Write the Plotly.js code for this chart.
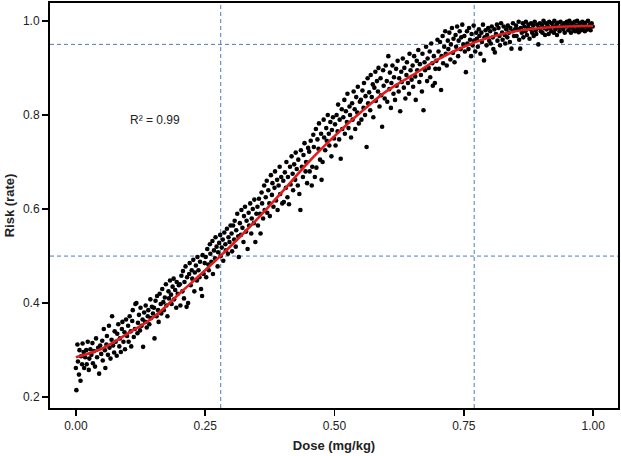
<!DOCTYPE html>
<html>
<head>
<meta charset="utf-8">
<script src="https://cdn.plot.ly/plotly-3.0.1.min.js"></script>
<style>
  html, body { margin: 0; padding: 0; background: #fff; }
  #chart { width: 621px; height: 456px; }
</style>
</head>
<body>
<div id="chart"></div>
<script>
const dose = [
  0.000,0.001,0.003,0.004,0.006,0.007,0.009,0.010,0.012,0.013,
  0.015,0.016,0.018,0.020,0.021,0.023,0.025,0.026,0.028,0.030,
  0.032,0.033,0.035,0.037,0.039,0.041,0.043,0.045,0.047,0.049,
  0.051,0.052,0.054,0.056,0.057,0.059,0.060,0.062,0.064,0.065,
  0.067,0.069,0.070,0.072,0.074,0.075,0.077,0.079,0.080,0.082,
  0.084,0.085,0.087,0.089,0.090,0.092,0.094,0.095,0.097,0.099,
  0.101,0.102,0.104,0.106,0.107,0.109,0.110,0.112,0.114,0.115,
  0.117,0.119,0.120,0.122,0.124,0.125,0.127,0.129,0.130,0.132,
  0.134,0.135,0.137,0.139,0.140,0.142,0.144,0.145,0.147,0.149,
  0.151,0.152,0.154,0.156,0.157,0.159,0.160,0.162,0.164,0.165,
  0.167,0.169,0.170,0.172,0.174,0.175,0.177,0.179,0.180,0.182,
  0.184,0.185,0.187,0.189,0.190,0.192,0.194,0.195,0.197,0.199,
  0.201,0.202,0.204,0.206,0.207,0.209,0.210,0.212,0.214,0.215,
  0.217,0.219,0.220,0.222,0.224,0.225,0.227,0.229,0.230,0.232,
  0.234,0.235,0.237,0.239,0.240,0.242,0.244,0.245,0.247,0.249,
  0.251,0.252,0.254,0.256,0.257,0.259,0.260,0.262,0.264,0.265,
  0.267,0.269,0.270,0.272,0.274,0.275,0.277,0.279,0.280,0.282,
  0.284,0.285,0.287,0.289,0.290,0.292,0.294,0.295,0.297,0.299,
  0.301,0.302,0.304,0.306,0.307,0.309,0.310,0.312,0.314,0.315,
  0.317,0.319,0.320,0.322,0.324,0.325,0.327,0.329,0.330,0.332,
  0.334,0.335,0.337,0.339,0.340,0.342,0.344,0.345,0.347,0.349,
  0.351,0.352,0.354,0.356,0.357,0.359,0.360,0.362,0.364,0.365,
  0.367,0.369,0.370,0.372,0.374,0.375,0.377,0.379,0.380,0.382,
  0.384,0.385,0.387,0.389,0.390,0.392,0.394,0.395,0.397,0.399,
  0.401,0.402,0.404,0.406,0.407,0.409,0.410,0.412,0.414,0.415,
  0.417,0.419,0.420,0.422,0.424,0.425,0.427,0.429,0.430,0.432,
  0.434,0.435,0.437,0.439,0.440,0.442,0.444,0.445,0.447,0.449,
  0.451,0.452,0.454,0.456,0.457,0.459,0.460,0.462,0.464,0.465,
  0.467,0.469,0.470,0.472,0.474,0.475,0.477,0.479,0.480,0.482,
  0.484,0.485,0.487,0.489,0.490,0.492,0.494,0.495,0.497,0.499,
  0.501,0.502,0.504,0.506,0.507,0.509,0.510,0.512,0.514,0.515,
  0.517,0.519,0.520,0.522,0.524,0.525,0.527,0.529,0.530,0.532,
  0.534,0.535,0.537,0.539,0.540,0.542,0.544,0.545,0.547,0.549,
  0.551,0.552,0.554,0.556,0.557,0.559,0.560,0.562,0.564,0.565,
  0.567,0.569,0.570,0.572,0.574,0.575,0.577,0.579,0.580,0.582,
  0.584,0.585,0.587,0.589,0.590,0.592,0.594,0.595,0.597,0.599,
  0.601,0.602,0.604,0.606,0.607,0.609,0.610,0.612,0.614,0.615,
  0.617,0.619,0.620,0.622,0.624,0.625,0.627,0.629,0.630,0.632,
  0.634,0.635,0.637,0.639,0.640,0.642,0.644,0.645,0.647,0.649,
  0.651,0.652,0.654,0.656,0.657,0.659,0.660,0.662,0.664,0.665,
  0.667,0.669,0.670,0.672,0.674,0.675,0.677,0.679,0.680,0.682,
  0.684,0.685,0.687,0.689,0.690,0.692,0.694,0.695,0.697,0.699,
  0.701,0.702,0.704,0.706,0.707,0.709,0.710,0.712,0.714,0.715,
  0.717,0.719,0.720,0.722,0.724,0.725,0.727,0.729,0.730,0.732,
  0.734,0.735,0.737,0.739,0.740,0.742,0.744,0.745,0.747,0.749,
  0.751,0.752,0.754,0.756,0.757,0.759,0.760,0.762,0.764,0.765,
  0.767,0.769,0.770,0.772,0.774,0.775,0.777,0.779,0.780,0.782,
  0.784,0.785,0.787,0.789,0.790,0.792,0.794,0.795,0.797,0.799,
  0.801,0.802,0.804,0.806,0.807,0.809,0.810,0.812,0.814,0.815,
  0.817,0.819,0.820,0.822,0.824,0.825,0.827,0.829,0.830,0.832,
  0.834,0.835,0.837,0.839,0.840,0.842,0.844,0.845,0.847,0.849,
  0.851,0.852,0.854,0.856,0.857,0.859,0.860,0.862,0.864,0.865,
  0.867,0.869,0.870,0.872,0.874,0.875,0.877,0.879,0.880,0.882,
  0.884,0.885,0.887,0.889,0.890,0.892,0.894,0.895,0.897,0.899,
  0.901,0.902,0.904,0.906,0.907,0.909,0.910,0.912,0.914,0.915,
  0.917,0.919,0.920,0.922,0.924,0.925,0.927,0.929,0.930,0.932,
  0.934,0.935,0.937,0.939,0.940,0.942,0.944,0.945,0.947,0.949,
  0.951,0.952,0.954,0.956,0.957,0.959,0.960,0.962,0.964,0.965,
  0.967,0.969,0.970,0.972,0.974,0.975,0.977,0.979,0.980,0.982,
  0.984,0.985,0.987,0.989,0.990,0.992,0.994,0.995,0.997,0.999
];
const risk = [
  0.262,0.215,0.312,0.276,0.248,0.300,0.235,0.287,0.270,0.314,
  0.296,0.262,0.285,0.300,0.270,0.318,0.258,0.282,0.302,0.290,
  0.315,0.272,0.298,0.265,0.325,0.285,0.305,0.250,0.310,0.292,
  0.320,0.278,0.345,0.300,0.262,0.312,0.330,0.290,0.352,0.305,
  0.282,0.322,0.372,0.310,0.295,0.340,0.318,0.288,0.335,0.355,
  0.308,0.325,0.296,0.345,0.360,0.318,0.338,0.302,0.365,0.330,
  0.352,0.318,0.372,0.340,0.308,0.362,0.385,0.328,0.345,0.398,
  0.400,0.336,0.358,0.375,0.342,0.390,0.352,0.365,0.307,0.380,
  0.360,0.395,0.348,0.372,0.385,0.355,0.408,0.368,0.392,0.378,
  0.390,0.325,0.405,0.372,0.415,0.385,0.360,0.420,0.398,0.378,
  0.430,0.402,0.385,0.412,0.440,0.395,0.372,0.425,0.410,0.448,
  0.418,0.398,0.435,0.452,0.408,0.428,0.390,0.445,0.420,0.438,
  0.440,0.395,0.458,0.425,0.468,0.410,0.445,0.478,0.392,0.455,
  0.400,0.462,0.485,0.438,0.470,0.452,0.492,0.425,0.465,0.480,
  0.448,0.498,0.470,0.455,0.488,0.430,0.415,0.502,0.462,0.485,
  0.498,0.455,0.515,0.482,0.470,0.525,0.505,0.488,0.532,0.462,
  0.512,0.495,0.540,0.520,0.478,0.508,0.528,0.545,0.500,0.518,
  0.535,0.490,0.550,0.525,0.512,0.558,0.505,0.540,0.530,0.565,
  0.548,0.510,0.565,0.535,0.575,0.520,0.555,0.590,0.542,0.498,
  0.570,0.545,0.598,0.560,0.530,0.585,0.605,0.552,0.575,0.515,
  0.592,0.565,0.612,0.548,0.580,0.600,0.570,0.620,0.530,0.590,
  0.605,0.565,0.622,0.590,0.548,0.635,0.612,0.580,0.650,0.598,
  0.625,0.660,0.592,0.640,0.612,0.585,0.672,0.630,0.655,0.605,
  0.645,0.680,0.618,0.662,0.598,0.650,0.690,0.632,0.668,0.612,
  0.660,0.615,0.678,0.645,0.700,0.625,0.668,0.610,0.690,0.652,
  0.712,0.675,0.640,0.695,0.662,0.720,0.685,0.650,0.705,0.632,
  0.598,0.725,0.690,0.668,0.715,0.740,0.680,0.700,0.655,0.730,
  0.722,0.680,0.745,0.650,0.690,0.758,0.732,0.668,0.770,0.688,
  0.748,0.728,0.782,0.705,0.760,0.662,0.700,0.790,0.752,0.725,
  0.772,0.745,0.800,0.760,0.735,0.785,0.712,0.768,0.795,0.750,
  0.780,0.735,0.800,0.765,0.822,0.748,0.790,0.707,0.812,0.770,
  0.795,0.832,0.760,0.808,0.785,0.845,0.772,0.818,0.800,0.752,
  0.825,0.790,0.850,0.812,0.770,0.838,0.805,0.860,0.782,0.828,
  0.832,0.790,0.852,0.815,0.868,0.800,0.840,0.732,0.878,0.825,
  0.848,0.810,0.885,0.838,0.865,0.795,0.858,0.892,0.830,0.872,
  0.850,0.900,0.818,0.878,0.842,0.775,0.895,0.862,0.835,0.905,
  0.872,0.828,0.925,0.855,0.890,0.815,0.868,0.905,0.845,0.880,
  0.832,0.898,0.862,0.915,0.850,0.878,0.808,0.892,0.870,0.920,
  0.858,0.900,0.835,0.885,0.912,0.868,0.845,0.930,0.895,0.875,
  0.905,0.860,0.925,0.882,0.832,0.915,0.895,0.938,0.870,0.908,
  0.885,0.850,0.930,0.810,0.912,0.895,0.945,0.872,0.920,0.900,
  0.935,0.880,0.952,0.910,0.862,0.925,0.868,0.898,0.915,0.960,
  0.935,0.898,0.955,0.853,0.925,0.968,0.910,0.945,0.978,0.930,
  0.905,0.958,0.940,0.975,0.918,0.950,0.985,0.932,0.962,0.912,
  0.970,0.945,0.988,0.925,0.958,0.978,0.940,0.965,0.992,0.950,
  0.968,0.935,0.891,0.978,0.952,0.940,0.985,0.960,0.925,0.972,
  0.948,0.990,0.958,0.935,0.975,0.962,0.945,0.982,0.968,0.930,
  0.975,0.955,0.992,0.916,0.965,0.980,0.948,0.970,0.985,0.958,
  0.978,0.952,0.988,0.965,0.940,0.982,0.933,0.972,0.992,0.958,
  0.985,0.968,0.948,0.995,0.975,0.960,0.988,0.970,0.952,0.982,
  0.965,0.990,0.975,0.955,0.985,0.941,0.978,0.995,0.968,0.982,
  0.990,0.968,0.982,0.998,0.960,0.941,0.985,0.975,0.995,0.965,
  0.988,0.978,0.998,0.970,0.985,0.992,0.962,0.982,0.995,0.975,
  0.990,0.968,0.998,0.980,0.972,0.992,0.950,0.985,0.995,0.978,
  0.992,0.975,1.000,0.985,0.970,0.995,0.982,0.990,0.972,0.998,
  0.985,0.978,0.995,0.988,0.975,1.000,0.982,0.992,0.970,0.996,
  0.986,0.978,0.998,0.957,0.990,0.982,0.995,0.975,0.988,0.998,
  0.992,0.980,1.000,0.986,0.975,0.995,0.988,0.982,0.998,0.978,
  0.990,1.000,0.984,0.976,0.995,0.988,0.980,0.998,0.985,0.992,
  0.978,0.996,0.988,0.982,1.000,0.985,0.992,0.980,0.995,0.988
];

// Fitted curve
const fitDose = [0.00,0.05,0.10,0.15,0.20,0.25,0.30,0.35,0.40,0.45,0.50,
                 0.55,0.60,0.65,0.70,0.75,0.80,0.85,0.90,0.95,1.00];
const fitRisk = [0.285,0.303,0.335,0.370,0.420,0.470,0.522,0.578,0.638,0.700,0.755,
                 0.805,0.850,0.884,0.918,0.945,0.965,0.978,0.985,0.988,0.989];

// Reference lines
const refDose = [0.28, 0.77];
const refRisk = [0.5, 0.95];

const xTickVals = [0, 0.25, 0.5, 0.75, 1];
const xTickText = ["0.00", "0.25", "0.50", "0.75", "1.00"];
const yTickVals = [0.2, 0.4, 0.6, 0.8, 1.0];
const yTickText = ["0.2", "0.4", "0.6", "0.8", "1.0"];

const rsqText = "R² = 0.99";

const n = Math.min(dose.length, risk.length);

const traces = [
  {
    x: dose.slice(0, n), y: risk.slice(0, n),
    type: "scatter", mode: "markers",
    marker: { color: "#000000", size: 4.6 },
    hoverinfo: "skip"
  },
  {
    x: fitDose, y: fitRisk,
    type: "scatter", mode: "lines",
    line: { color: "#e41a1c", width: 2.6, shape: "spline" },
    hoverinfo: "skip"
  }
];

const dashStyle = { color: "#4f7bbd", width: 1, dash: "4px,3px" };
const shapes = [];
refDose.forEach(v => shapes.push({ type: "line", xref: "x", yref: "paper", x0: v, x1: v, y0: 0, y1: 1, line: dashStyle, layer: "below" }));
refRisk.forEach(v => shapes.push({ type: "line", xref: "paper", yref: "y", x0: 0, x1: 1, y0: v, y1: v, line: dashStyle, layer: "below" }));

const font = "Liberation Sans, Arial, sans-serif";

const layout = {
  width: 621, height: 456,
  margin: { l: 50, r: 3, t: 3, b: 48, pad: 0 },
  paper_bgcolor: "#ffffff", plot_bgcolor: "#ffffff",
  showlegend: false,
  font: { family: font, size: 12, color: "#222222" },
  xaxis: {
    range: [-0.05, 1.048],
    tickvals: xTickVals, ticktext: xTickText,
    ticks: "outside", ticklen: 6, tickwidth: 1.5, tickcolor: "#000",
    showline: true, linecolor: "#000", linewidth: 2, mirror: true,
    showgrid: false, zeroline: false,
    tickfont: { family: font, size: 12, color: "#222" },
    title: { text: "<b>Dose (mg/kg)</b>", font: { family: font, size: 13, color: "#222" }, standoff: 8 }
  },
  yaxis: {
    range: [0.177, 1.038],
    tickvals: yTickVals, ticktext: yTickText,
    ticks: "outside", ticklen: 6, tickwidth: 1.5, tickcolor: "#000",
    showline: true, linecolor: "#000", linewidth: 2, mirror: true,
    showgrid: false, zeroline: false,
    tickfont: { family: font, size: 12, color: "#222" },
    title: { text: "<b>Risk (rate)</b>", font: { family: font, size: 13, color: "#222" }, standoff: 5 }
  },
  shapes: shapes,
  annotations: [{
    x: 0.153, y: 0.789, xref: "x", yref: "y",
    text: rsqText, showarrow: false,
    font: { family: font, size: 12, color: "#222" }
  }]
};

Plotly.newPlot("chart", traces, layout, { displayModeBar: false, staticPlot: true });
</script>
</body>
</html>
